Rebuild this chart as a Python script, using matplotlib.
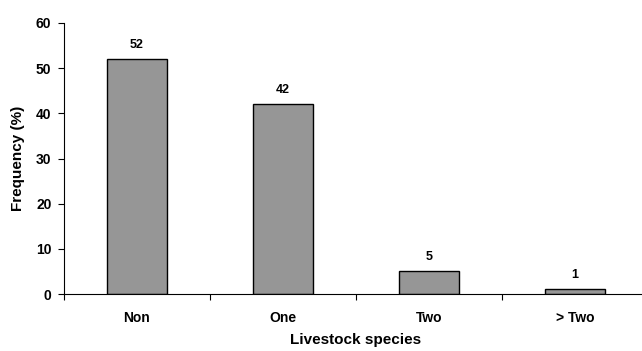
import numpy as np
import matplotlib.pyplot as plt

plt.rcParams['font.family'] = ['Liberation Sans', 'DejaVu Sans']
plt.rcParams['font.weight'] = 'bold'

categories = ['Non', 'One', 'Two', '> Two']
freq = [52, 42, 5, 1]

fig = plt.figure(figsize=(6.42, 3.51), dpi=100)
ax = fig.add_axes([64/642, 57/351, 584/642, 271/351])
x = np.arange(len(categories))
ax.bar(x, freq, width=0.41, color='#969696', edgecolor='black', linewidth=1)
for xi, v in zip(x, freq):
    ax.annotate('%d' % v, (xi, v), xytext=(0, 6), textcoords='offset points',
                ha='center', va='bottom', fontsize=9, fontweight='bold')

ax.set_xlim(-0.5, 3.5)
ax.set_ylim(0, 60)
ax.set_yticks(range(0, 61, 10))
ax.set_xticks(np.arange(-0.5, 4, 1))
ax.set_xticklabels([])
ax.set_xticks(x, minor=True)
ax.set_xticklabels(categories, minor=True)
ax.tick_params(axis='x', which='minor', length=0, pad=12, labelsize=10)
ax.tick_params(axis='x', which='major', length=4, direction='out')
ax.tick_params(axis='y', length=4, direction='out', labelsize=10, pad=5)
for s in ['top', 'right']:
    ax.spines[s].set_visible(False)
ax.set_ylabel('Frequency (%)', fontsize=11, fontweight='bold', labelpad=8)
ax.set_xlabel('Livestock species', fontsize=11, fontweight='bold', labelpad=6)

plt.savefig('out.png', dpi=100)
